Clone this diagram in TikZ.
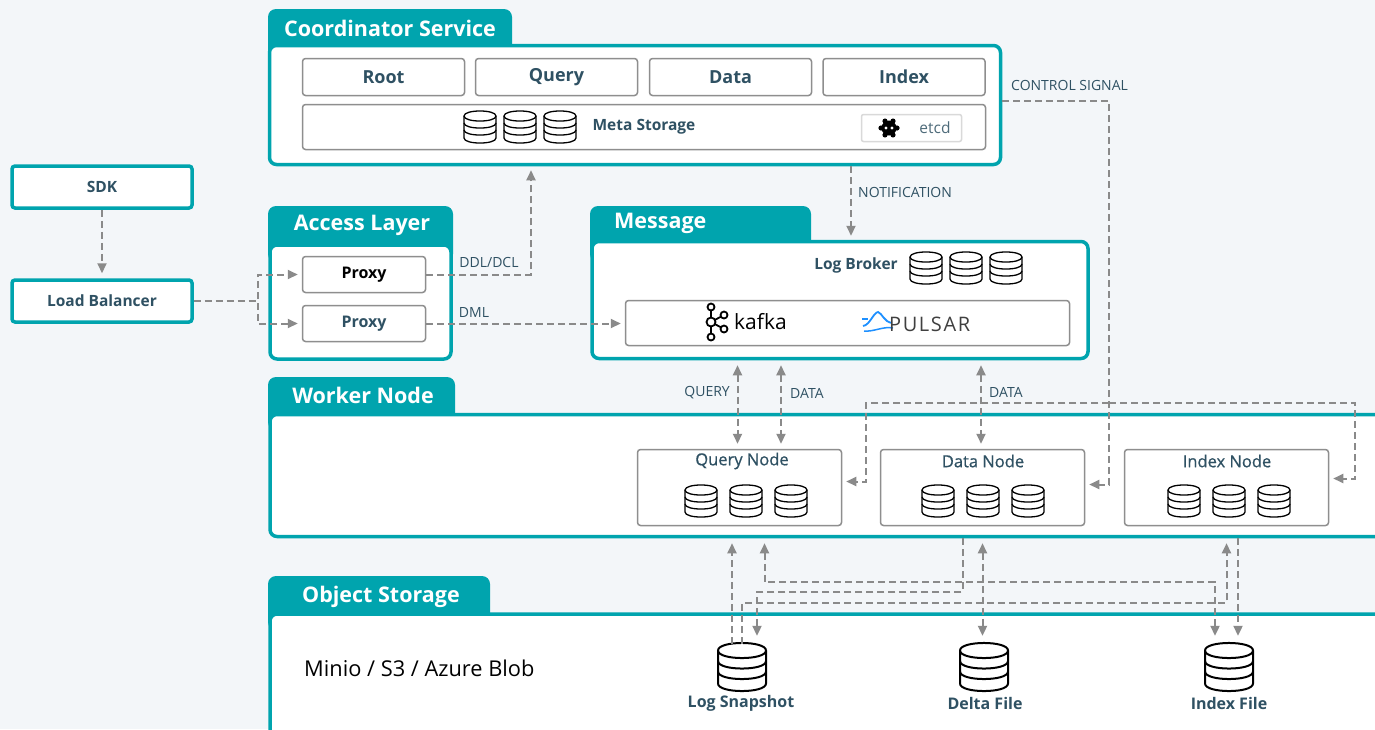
\documentclass[tikz,border=0pt]{standalone}
\usepackage{fontspec}
\setmainfont{Open Sans}
\newfontfamily\mediumfont{Open Sans}[FakeBold=0.7]
\usetikzlibrary{arrows.meta,positioning}

\definecolor{milvusteal}{HTML}{00A4AE}
\definecolor{slate}{HTML}{2F5163}
\definecolor{paper}{HTML}{F3F6F9}
\definecolor{flowgray}{HTML}{8A8A8A}
\definecolor{boxgray}{HTML}{8E8E8E}
\definecolor{pulsarblue}{HTML}{1E90FF}

\tikzset{
  dbline/.style={line width=1.3pt},
  dbicon/.pic={
    \draw[dbline, fill=white] (-16,-11) -- (-16,11) .. controls (-16,17.7) and (16,17.7) .. (16,11) -- (16,-11) .. controls (16,-17.7) and (-16,-17.7) .. (-16,-11) -- cycle;
    \draw[dbline] (-16,-11) .. controls (-16,-4.3) and (16,-4.3) .. (16,-11);
    \draw[dbline] (-16,-4) .. controls (-16,2.7) and (16,2.7) .. (16,-4);
    \draw[dbline] (-16,3) .. controls (-16,9.7) and (16,9.7) .. (16,3);
  }
}

\begin{document}
\begin{tikzpicture}[x=1pt, y=-1pt, >={Triangle[length=10pt,width=9pt]},
  group/.style={draw=milvusteal, line width=3.5pt, fill=white, rounded corners=7pt, inner sep=0pt},
  tab/.style={fill=milvusteal, rounded corners=8pt},
  title/.style={text=white, font=\bfseries\fontsize{21.5}{25}\selectfont, inner sep=0pt},
  extbox/.style={draw=milvusteal, line width=3.5pt, fill=white, rounded corners=3pt, minimum width=180pt, minimum height=42pt, text=slate, font=\bfseries\fontsize{15.5}{18}\selectfont},
  inbox/.style={draw=boxgray, line width=1.5pt, fill=white, rounded corners=3pt, inner sep=0pt, text=slate, font=\bfseries\fontsize{18}{21}\selectfont},
  workbox/.style={inbox, minimum width=204pt, minimum height=76pt},
  nodetext/.style={text=slate, font=\mediumfont\fontsize{16.5}{19}\selectfont},
  filetext/.style={text=slate, font=\bfseries\fontsize{16}{19}\selectfont},
  sigtext/.style={text=slate, font=\fontsize{14}{16}\selectfont, inner sep=0pt},
  flow/.style={draw=flowgray, line width=2pt, dash pattern=on 7pt off 4pt, ->, shorten >=4pt},
  flowboth/.style={flow, <->, shorten <=5pt, shorten >=5pt},
  filedb/.style={minimum width=50pt, minimum height=46pt, inner sep=0pt}
]
\useasboundingbox (0,0) rectangle (1375,729);
\fill[paper] (0,0) rectangle (1375,729);

% coordinator
\fill[tab] (268,9) rectangle (512,60);
\node[group, minimum width=731pt, minimum height=119pt] (coordbox) at (635,105) {};
\node[title] at (390,28) {Coordinator Service};
\node[inbox, minimum width=162pt, minimum height=37pt] (root) at (383.5,77) {Root};
\node[inbox, minimum width=162pt, minimum height=37pt] (querycoord) at (556.5,77) {Query};
\node[inbox, minimum width=162pt, minimum height=37pt] (datacoord) at (730.5,77) {Data};
\node[inbox, minimum width=162pt, minimum height=37pt] (indexcoord) at (904,77) {Index};
\node[inbox, minimum width=683pt, minimum height=45pt, font=\bfseries\fontsize{15.5}{18}\selectfont] (metastore) at (644,127) {Meta Storage};
\foreach \x in {480,520,560} \pic at (\x,127) {dbicon};
\node[draw=gray!30, line width=1.5pt, fill=white, rounded corners=2pt, minimum width=100pt, minimum height=27pt] (etcdbox) at (911.5,128) {};
\fill (889,128) circle (7.5);
\foreach \a in {0,60,...,300} \fill (889,128) ++(\a:8) circle (2.6);
\fill[white] (886,128) circle (1.7);
\fill[white] (892,128) circle (1.7);
\node[text=slate!85, font=\fontsize{15.5}{18}\selectfont] (etcdtext) at (935,128) {etcd};

% clients
\node[extbox] (sdk) at (102,187) {SDK};
\node[extbox] (lb) at (102,301) {Load Balancer};

% access layer
\fill[tab] (268,206) rectangle (453,262);
\node[group, minimum width=181pt, minimum height=114pt] (accessbox) at (360.5,302) {};
\node[title] at (362,225) {Access Layer};
\node[inbox, minimum width=123pt, minimum height=36pt, text=black, font=\bfseries\fontsize{16}{19}\selectfont] (proxya) at (364,274.5) {Proxy};
\node[inbox, minimum width=123pt, minimum height=36pt, font=\bfseries\fontsize{16}{19}\selectfont] (proxyb) at (364,323.5) {Proxy};

% message storage
\fill[tab] (590,206) rectangle (811,262);
\node[group, minimum width=496pt, minimum height=117pt] (msgbox) at (840,300) {};
\node[title, anchor=west] at (614,223) {Message};
\node[text=slate, font=\bfseries\fontsize{15.5}{18}\selectfont] (logbroker) at (856,265) {Log Broker};
\foreach \x in {926,966,1006} \pic at (\x,268) {dbicon};
\node[inbox, minimum width=444pt, minimum height=45pt] (mq) at (847.5,323) {};
\draw[line width=1.8pt] (711,307) -- (711,337);
\draw[line width=1.8pt] (724,315) -- (711,322) -- (724,329);
\foreach \p/\r in {{711,307}/3.5, {711,322}/4.5, {711,337}/3.5, {724,315}/3.5, {724,329}/3.5}
  \draw[line width=1.8pt, fill=white] (\p) circle (\r);
\node[font=\fontsize{21}{24}\selectfont, anchor=west, inner sep=0pt] (kafkatext) at (734,322) {kafka};
\draw[pulsarblue, line width=1.8pt] (863,326) .. controls (870,325) and (873,313) .. (878,312) .. controls (882,313) and (884,322) .. (892,323);
\draw[pulsarblue, line width=1.5pt] (864,331) .. controls (874,332) and (883,326) .. (893,328);
\draw[pulsarblue, line width=1.5pt] (862,319) -- (868,319);
\node[text=black!75, font=\fontsize{20}{23}\selectfont\addfontfeature{LetterSpace=8}, anchor=west, inner sep=0pt] (pulsartext) at (889,324) {PULSAR};

% worker nodes
\fill[tab] (268,377) rectangle (455,430);
\node[group, minimum width=1120pt, minimum height=122pt] (workerbox) at (830,475.5) {};
\node[title] at (363,395) {Worker Node};
\node[workbox] (querynode) at (739.5,487.5) {};
\node[nodetext] at (742,461) {Query Node};
\foreach \x in {701,746,791} \pic at (\x,501) {dbicon};
\node[workbox] (datanode) at (982.5,487.5) {};
\node[nodetext] at (983,461) {Data Node};
\foreach \x in {938,983,1028} \pic at (\x,501) {dbicon};
\node[workbox] (indexnode) at (1226.5,487.5) {};
\node[nodetext] at (1227,461) {Index Node};
\foreach \x in {1184,1229,1274} \pic at (\x,501) {dbicon};

% object storage
\fill[tab] (268,576) rectangle (490,630);
\node[group, minimum width=1120pt, minimum height=150pt] (objbox) at (830,689) {};
\node[title] at (381,597) {Object Storage};
\node[anchor=west, inner sep=0pt, font=\fontsize{21.8}{25}\selectfont] (objkinds) at (304,668) {Minio / S3 / Azure Blob};
\node[filedb] (logsnap) at (742,667) {};
\node[filedb] (deltafile) at (984,667) {};
\node[filedb] (indexfile) at (1229,667) {};
\foreach \f in {logsnap,deltafile,indexfile}
  \pic[scale=1.5, dbline/.style={line width=2pt}] at (\f) {dbicon};
\node[filetext] at (741,703) {Log Snapshot};
\node[filetext] at (985,703) {Delta File};
\node[filetext] at (1229,703) {Index File};

% connectors
\draw[flow, shorten >=5pt] (sdk) -- (lb);
\draw[flow] (lb.east) -- ++(64,0) |- (proxya.west);
\draw[flow] (lb.east) -- ++(64,0) |- (proxyb.west);
\draw[flow] (proxya.east) -| ([xshift=-104pt]coordbox.south);
\node[sigtext] at (489,262) {DDL/DCL};
\draw[flow] (proxyb.east) -- (proxyb.east -| mq.west);
\node[sigtext] at (474,312) {DML};
\draw[flow] ([xshift=216pt]coordbox.south) -- ([xshift=216pt]coordbox.south |- msgbox.north);
\node[sigtext, anchor=west] at (858,192) {NOTIFICATION};
\draw[flow] ([yshift=4pt]coordbox.east) -| ([shift={(24pt,3pt)}]datanode.east) -- ([yshift=3pt]datanode.east);
\node[sigtext, anchor=west] at (1011,85) {CONTROL SIGNAL};
\coordinate (ctrlsplit) at ([xshift=24pt]datanode.east |- 0,403);
\draw[flow] (ctrlsplit) -| ([shift={(24pt,6pt)}]querynode.east) -- ([yshift=6pt]querynode.east);
\draw[flow] (ctrlsplit) -| ([shift={(26pt,9pt)}]indexnode.east) -- ([yshift=9pt]indexnode.east);
\draw[flowboth] ([xshift=-2pt]querynode.north |- msgbox.south) -- ([xshift=-2pt]querynode.north);
\draw[flowboth] ([xshift=41.5pt]querynode.north |- msgbox.south) -- ([xshift=41.5pt]querynode.north);
\draw[flowboth] ([xshift=-1.5pt]datanode.north |- msgbox.south) -- ([xshift=-1.5pt]datanode.north);
\node[sigtext, anchor=east] at (730,393) {QUERY};
\node[sigtext, anchor=west] at (790,393) {DATA};
\node[sigtext, anchor=west] at (989,392) {DATA};

\coordinate (rowa) at (0,582);
\coordinate (rowb) at (0,592);
\coordinate (rowc) at (0,603);
\draw[flow, shorten >=5pt] ([xshift=-10pt]logsnap.north) -- ([xshift=-10pt]logsnap.north |- workerbox.south);
\draw[flow, shorten >=5pt] (logsnap.north) |- (indexnode.south |- rowc) -- (indexnode.south |- workerbox.south);
\draw[flow, shorten >=8pt] ([xshift=-20pt]datanode.south |- workerbox.south) |- ([xshift=15pt]logsnap.north |- rowb) -- ([xshift=15pt]logsnap.north);
\draw[flowboth, shorten >=8pt] ([xshift=25pt]querynode.south |- workerbox.south) |- ([xshift=-14pt]indexfile.north |- rowa) -- ([xshift=-14pt]indexfile.north);
\draw[flowboth, shorten >=8pt] (datanode.south |- workerbox.south) -- (datanode.south |- deltafile.north);
\draw[flow, shorten >=8pt] ([xshift=11.5pt]indexnode.south |- workerbox.south) -- ([xshift=11.5pt]indexnode.south |- indexfile.north);
\end{tikzpicture}
\end{document}
